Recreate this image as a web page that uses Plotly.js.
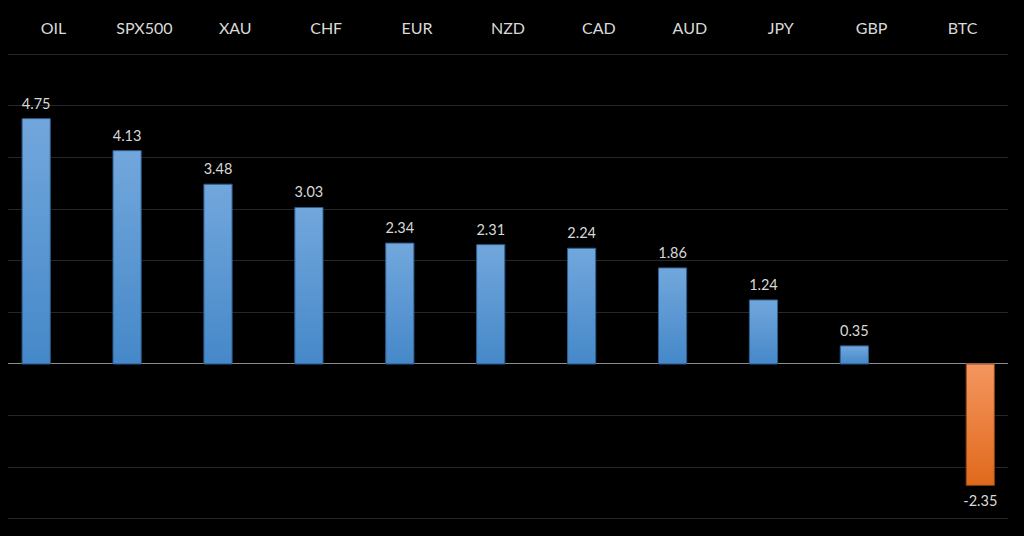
<!DOCTYPE html>
<html>
<head>
<meta charset="utf-8">
<script src="https://cdn.plot.ly/plotly-3.0.1.min.js"></script>
<style>
html,body{margin:0;padding:0;background:#000;}
#chart{width:1024px;height:536px;}
</style>
</head>
<body>
<div id="chart"></div>
<script>
const categories = ['OIL','SPX500','XAU','CHF','EUR','NZD','CAD','AUD','JPY','GBP','BTC'];
const values = [4.75, 4.13, 3.48, 3.03, 2.34, 2.31, 2.24, 1.86, 1.24, 0.35, -2.35];

const posX = [], posY = [], negX = [], negY = [];
categories.forEach((c, i) => {
  if (values[i] >= 0) { posX.push(c); posY.push(values[i]); }
  else { negX.push(c); negY.push(values[i]); }
});

const labelFont = {family: 'Lato, "Open Sans", sans-serif', size: 14.5, color: '#d9d9d9'};

const traces = [
  {
    type: 'bar', x: posX, y: posY,
    width: 0.31, offset: -0.345,
    marker: {color: '#5b9bd5', line: {color: '#2d5e8e', width: 1}},
    texttemplate: '%{y:.2f}', textposition: 'outside', textfont: labelFont,
    constraintext: 'none', cliponaxis: false, hoverinfo: 'skip'
  },
  {
    type: 'bar', x: negX, y: negY,
    width: 0.31, offset: 0.04,
    marker: {color: '#ed7d31', line: {color: '#8a4312', width: 1}},
    texttemplate: '%{y:.2f}', textposition: 'outside', textfont: labelFont,
    constraintext: 'none', cliponaxis: false, hoverinfo: 'skip'
  }
];

const layout = {
  width: 1024, height: 536,
  margin: {l: 8, r: 16, t: 52, b: 15, pad: 0},
  paper_bgcolor: '#000', plot_bgcolor: '#000',
  showlegend: false,
  uniformtext: {mode: false},
  xaxis: {
    type: 'category', categoryorder: 'array', categoryarray: categories,
    range: [-0.5, 10.5], side: 'top',
    showgrid: false, showline: false, zeroline: false, ticks: '',
    ticklabelstandoff: 14,
    tickfont: {family: 'Lato, "Open Sans", sans-serif', size: 16, color: '#d9d9d9'},
    fixedrange: true
  },
  yaxis: {
    range: [-3.04, 6.04], dtick: 1, tick0: 0,
    showticklabels: false, ticks: '',
    showgrid: true, gridcolor: '#262626', gridwidth: 1,
    zeroline: true, zerolinecolor: '#8c8c8c', zerolinewidth: 1,
    showline: false, fixedrange: true
  }
};

Plotly.newPlot('chart', traces, layout, {displayModeBar: false, staticPlot: true}).then(() => {
  const svg = document.querySelector('#chart .main-svg');
  const ns = 'http://www.w3.org/2000/svg';
  const defs = document.createElementNS(ns, 'defs');
  function grad(id, top, bottom) {
    const g = document.createElementNS(ns, 'linearGradient');
    g.setAttribute('id', id);
    g.setAttribute('x1', '0'); g.setAttribute('y1', '0');
    g.setAttribute('x2', '0'); g.setAttribute('y2', '1');
    [[0, top], [1, bottom]].forEach(([o, c]) => {
      const s = document.createElementNS(ns, 'stop');
      s.setAttribute('offset', o);
      s.setAttribute('stop-color', c);
      g.appendChild(s);
    });
    defs.appendChild(g);
  }
  grad('gBlue', '#72a7dc', '#4588c9');
  grad('gOrange', '#f49660', '#e0691b');
  svg.insertBefore(defs, svg.firstChild);
  const tr = document.querySelectorAll('#chart .barlayer .trace');
  const shifts = [-4, 4];
  const grads = ['url(#gBlue)', 'url(#gOrange)'];
  tr.forEach((t, k) => {
    t.querySelectorAll('path').forEach(p => p.style.fill = grads[k]);
    t.querySelectorAll('text.bartext').forEach(tx => {
      const prev = tx.getAttribute('transform') || '';
      tx.setAttribute('transform', 'translate(0,' + shifts[k] + ') ' + prev);
    });
  });
});
</script>
</body>
</html>
